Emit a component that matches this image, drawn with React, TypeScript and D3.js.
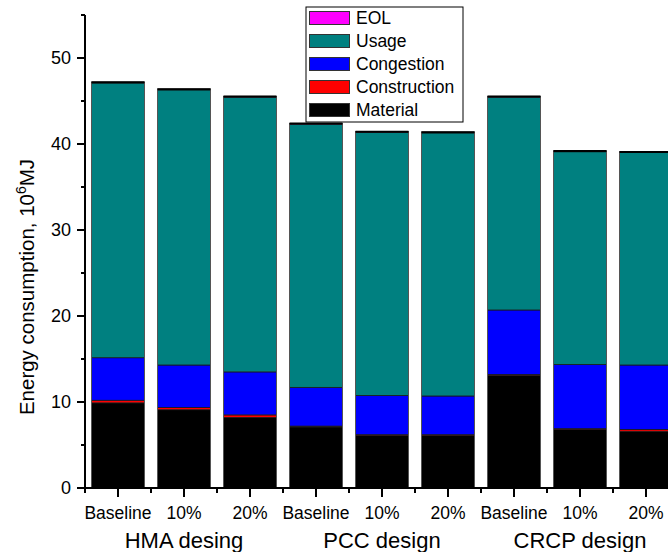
import React from "react";
import * as d3 from "d3";

const categories = ["Baseline", "10%", "20%", "Baseline", "10%", "20%", "Baseline", "10%", "20%"];
const groups = ["HMA desing", "PCC design", "CRCP design"];
const seriesNames = ["Material", "Construction", "Congestion", "Usage", "EOL"];
const seriesColors = ["#000000", "#ff0000", "#0000ff", "#008080", "#ff00ff"];
const material = [9.9, 9.1, 8.2, 7.1, 6.1, 6.1, 13.1, 6.8, 6.6];
const construction = [0.3, 0.25, 0.3, 0.1, 0.1, 0.1, 0.1, 0.1, 0.2];
const congestion = [4.95, 4.95, 5.0, 4.5, 4.55, 4.5, 7.5, 7.45, 7.5];
const usage = [31.95, 32.0, 31.95, 30.6, 30.6, 30.6, 24.75, 24.75, 24.7];
const eol = [0.08, 0.08, 0.08, 0.08, 0.08, 0.08, 0.08, 0.08, 0.08];
const yTicks = [0, 10, 20, 30, 40, 50];
const yMinorTicks = [5, 15, 25, 35, 45, 55];

const W = 668;
const H = 552;
const FONT = "'Liberation Sans', Arial, sans-serif";

export default function App() {
  const x = d3
    .scaleBand<number>()
    .domain(d3.range(categories.length))
    .range([85, 679])
    .paddingInner(0.197)
    .paddingOuter(0.0985);
  const y = d3.scaleLinear().domain([0, 55]).range([488, 15]);

  const rows = categories.map((c, i) => ({
    i,
    Material: material[i],
    Construction: construction[i],
    Congestion: congestion[i],
    Usage: usage[i],
    EOL: eol[i],
  }));
  const stacked = d3.stack<any>().keys(seriesNames)(rows);

  const step = x.step();
  const bw = x.bandwidth();
  const legendOrder = ["EOL", "Usage", "Congestion", "Construction", "Material"];

  return (
    <svg
      width={W}
      height={H}
      style={{ position: "absolute", left: 0, top: 0, background: "#fff" }}
      fontFamily={FONT}
    >
      {/* bars */}
      {stacked.map((s, si) => (
        <g key={s.key} fill={seriesColors[si]}>
          {s.map((d, i) => (
            <rect
              key={i}
              x={x(i)}
              y={y(d[1])}
              width={bw}
              height={Math.max(0, y(d[0]) - y(d[1]))}
              stroke="#1a1a1a"
              strokeWidth={0.8}
            />
          ))}
        </g>
      ))}
      {/* bar outlines */}
      {rows.map((r, i) => {
        const top = d3.sum(seriesNames.map((k) => (r as any)[k]));
        return (
          <g key={"o" + i}>
            <rect
              x={x(i)}
              y={y(top)}
              width={bw}
              height={y(0) - y(top)}
              fill="none"
              stroke="#555"
              strokeWidth={1}
            />
            <line x1={x(i)} x2={(x(i) as number) + bw} y1={y(top)} y2={y(top)} stroke="#000" strokeWidth={2} />
          </g>
        );
      })}

      {/* y axis */}
      <line x1={85} x2={85} y1={y(55)} y2={y(0) + 1} stroke="#000" strokeWidth={2} />
      {yTicks.map((t) => (
        <g key={"yt" + t}>
          <line x1={77} x2={85} y1={y(t)} y2={y(t)} stroke="#000" strokeWidth={2} />
          <text x={71} y={y(t)} dy="0.35em" textAnchor="end" fontSize={18}>
            {t}
          </text>
        </g>
      ))}
      {yMinorTicks.map((t) => (
        <line key={"ym" + t} x1={81} x2={85} y1={y(t)} y2={y(t)} stroke="#000" strokeWidth={2} />
      ))}
      <text
        transform={`translate(34, ${287}) rotate(-90)`}
        textAnchor="middle"
        fontSize={20.5}
      >
        Energy consumption, 10
        <tspan dy={-8} fontSize={14}>6</tspan>
        <tspan dy={8}>MJ</tspan>
      </text>

      {/* x axis */}
      <line x1={84} x2={W} y1={y(0)} y2={y(0)} stroke="#000" strokeWidth={2} />
      {categories.map((c, i) => {
        const cx = (x(i) as number) + bw / 2;
        return (
          <g key={"xt" + i}>
            <line x1={cx} x2={cx} y1={y(0)} y2={y(0) + 9} stroke="#000" strokeWidth={2} />
            <line
              x1={(x(i) as number) - (step - bw) / 2}
              x2={(x(i) as number) - (step - bw) / 2}
              y1={y(0)}
              y2={y(0) + 5}
              stroke="#000"
              strokeWidth={2}
            />
            <text x={cx} y={519} textAnchor="middle" fontSize={17.5}>
              {c}
            </text>
          </g>
        );
      })}
      {groups.map((g, gi) => {
        const cx = (x(gi * 3 + 1) as number) + bw / 2;
        return (
          <text key={g} x={cx} y={548} textAnchor="middle" fontSize={22}>
            {g}
          </text>
        );
      })}

      {/* legend */}
      <rect x={306} y={7} width={157} height={115} fill="#fff" stroke="#000" strokeWidth={1} />
      {legendOrder.map((name, li) => {
        const si = seriesNames.indexOf(name);
        const cy = 18 + li * 23;
        return (
          <g key={name}>
            <rect x={309.5} y={cy - 6.5} width={40} height={13} fill={seriesColors[si]} stroke="#333" strokeWidth={1} />
            <text x={356} y={cy} dy="0.35em" fontSize={17.5}>
              {name}
            </text>
          </g>
        );
      })}
    </svg>
  );
}
